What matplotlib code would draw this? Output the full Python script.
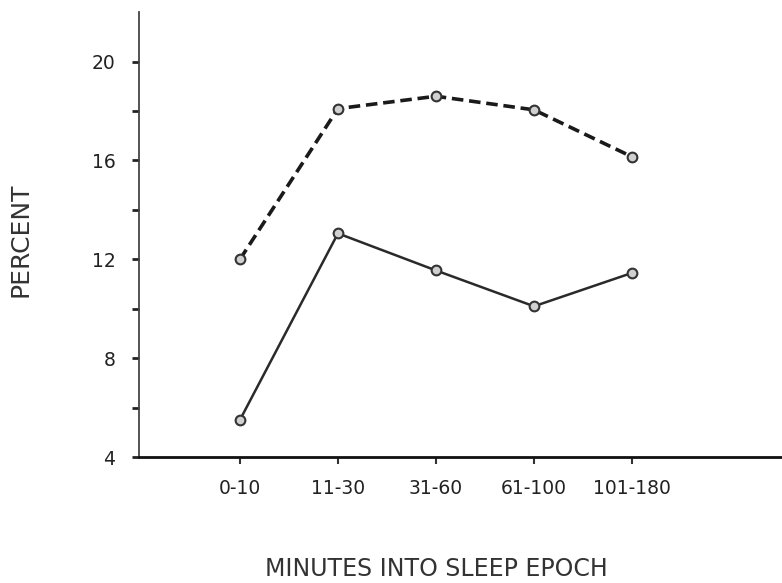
import matplotlib.pyplot as plt
import numpy as np

# minutes into sleep epoch
epochs = ['0-10', '11-30', '31-60', '61-100', '101-180']
dashed_pct = [12.0, 18.1, 18.6, 18.05, 16.15]
solid_pct = [5.5, 13.05, 11.55, 10.1, 11.45]

x = np.arange(len(epochs))

fig = plt.figure(figsize=(7.82, 5.83), dpi=100)
ax = fig.add_axes([0.1777, 0.2161, 0.8223, 0.7629])

ax.plot(x, dashed_pct, color='#1a1a1a', lw=2.6, ls=(0, (3.2, 1.6)),
        marker='o', ms=7, mfc='#d0d0d0', mec='#333333', mew=1.5)
ax.plot(x, solid_pct, color='#2a2a2a', lw=1.8,
        marker='o', ms=7, mfc='#d0d0d0', mec='#333333', mew=1.5)

ax.set_xlim(-1.03, 5.53)
ax.set_ylim(4, 22)

ax.set_yticks([4, 8, 12, 16, 20])
ax.set_yticks([6, 10, 14, 18], minor=True)
ax.set_xticks(x)
ax.set_xticklabels(epochs)

for s in ['top', 'right']:
    ax.spines[s].set_visible(False)
ax.spines['left'].set_linewidth(1.3)
ax.spines['left'].set_color('#444444')
ax.spines['bottom'].set_linewidth(2.0)
ax.spines['bottom'].set_color('#111111')

ax.tick_params(axis='y', which='both', direction='out', length=5, width=2,
               color='#222222', labelsize=13.5, pad=12)
ax.tick_params(axis='x', direction='out', length=5, width=1.5,
               color='#333333', labelsize=13.5, pad=11)

for lab in ax.get_xticklabels() + ax.get_yticklabels():
    lab.set_color('#222222')

ax.set_ylabel('PERCENT', fontsize=18, color='#333333')
ax.yaxis.set_label_coords(-0.165, 0.488)
ax.set_xlabel('MINUTES INTO SLEEP EPOCH', fontsize=17, color='#333333')
ax.xaxis.set_label_coords((2 + 1.03) / 6.56, -0.225)

plt.savefig('out.png', dpi=100)
